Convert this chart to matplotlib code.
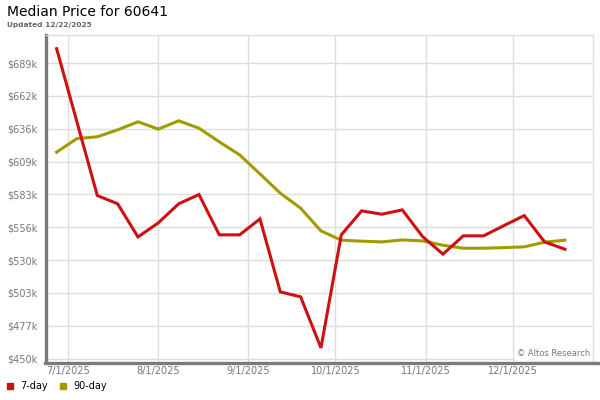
import matplotlib
matplotlib.use("Agg")
import matplotlib.pyplot as plt
import matplotlib.dates as mdates
import pandas as pd

# weekly points (Fridays)
dates = ["2025-06-27", "2025-07-04", "2025-07-11", "2025-07-18", "2025-07-25",
         "2025-08-01", "2025-08-08", "2025-08-15", "2025-08-22", "2025-08-29",
         "2025-09-05", "2025-09-12", "2025-09-19", "2025-09-26", "2025-10-03",
         "2025-10-10", "2025-10-17", "2025-10-24", "2025-10-31", "2025-11-07",
         "2025-11-14", "2025-11-21", "2025-11-28", "2025-12-05", "2025-12-12",
         "2025-12-19"]

# values in $k
price_7day = [700.6, 641.3, 581.9, 575.2, 548.4, 559.8, 575.2, 582.7, 550.1, 550.1,
              563.0, 504.0, 500.0, 458.7, 550.1, 569.5, 566.8, 570.3, 548.7, 534.5,
              549.3, 549.3, 557.6, 565.7, 544.4, 538.5]
price_90day = [617.0, 628.0, 629.4, 635.0, 641.5, 635.6, 642.3, 636.4, 625.3, 614.8,
               599.4, 583.8, 571.7, 553.3, 545.8, 545.0, 544.4, 546.0, 545.2, 541.7,
               539.3, 539.3, 539.8, 540.4, 544.2, 545.8]

ytick_labels = ["$450k", "$477k", "$503k", "$530k", "$556k",
                "$583k", "$609k", "$636k", "$662k", "$689k"]
xtick_dates = ["2025-07-01", "2025-08-01", "2025-09-01",
               "2025-10-01", "2025-11-01", "2025-12-01"]
xtick_labels = ["7/1/2025", "8/1/2025", "9/1/2025", "10/1/2025", "11/1/2025", "12/1/2025"]

red = "#cc1111"
olive = "#a09c00"
grid_c = "#dddddd"
tick_c = "#777777"

x = pd.to_datetime(dates)

fig = plt.figure(figsize=(6, 4), dpi=100)
ax = fig.add_axes([46 / 600, 1 - 362 / 400, (593 - 46) / 600, (362 - 35) / 400])

ax.plot(x, price_7day, color=red, lw=2.2, solid_joinstyle="miter", zorder=3)
ax.plot(x, price_90day, color=olive, lw=2.2, solid_joinstyle="miter", zorder=2)

ax.set_xlim(pd.Timestamp("2025-06-23 08:00"), pd.Timestamp("2025-12-28 16:00"))
ax.set_ylim(447.3, 711.7)

ytick_pos = [450 + i * (689 - 450) / 9 for i in range(10)]
ax.set_yticks(ytick_pos)
ax.set_yticklabels(ytick_labels)
ax.set_xticks(pd.to_datetime(xtick_dates))
ax.set_xticklabels(xtick_labels)
ax.tick_params(length=0, labelsize=7, colors=tick_c, pad=6)
ax.tick_params(axis="x", pad=3)

ax.grid(True, color=grid_c, lw=1)
ax.set_axisbelow(True)

ax.spines["left"].set_color("#7a7a7a")
ax.spines["left"].set_linewidth(2.4)
ax.spines["bottom"].set_visible(False)
for side in ["top", "right"]:
    ax.spines[side].set_color(grid_c)
    ax.spines[side].set_linewidth(1)

# thick bottom rule, running a little past the plot's right edge
fig.add_artist(plt.Line2D([44.5 / 600, 598 / 600], [1 - 362.5 / 400, 1 - 362.5 / 400],
                          transform=fig.transFigure, color="#7a7a7a", lw=2.4))

ax.text(0.995, 0.012, "\u00a9 Altos Research", transform=ax.transAxes,
        ha="right", va="bottom", fontsize=6, color="#777777", zorder=5,
        bbox=dict(facecolor="white", edgecolor="none", pad=1.5))

fig.text(7 / 600, 1 - 12.5 / 400, "Median Price for 60641", fontsize=10,
         color="black", va="center", ha="left")
fig.text(7 / 600, 1 - 25 / 400, "Updated 12/22/2025", fontsize=5.3,
         color="#666666", va="center", ha="left", fontweight="bold")

# legend
fig.patches.append(plt.Rectangle((7 / 600, 1 - 389 / 400), 6 / 600, 6 / 400,
                                 transform=fig.transFigure, color=red))
fig.text(20 / 600, 1 - 386 / 400, "7-day", fontsize=7, va="center", ha="left")
fig.patches.append(plt.Rectangle((60 / 600, 1 - 389 / 400), 6 / 600, 6 / 400,
                                 transform=fig.transFigure, color=olive))
fig.text(73 / 600, 1 - 386 / 400, "90-day", fontsize=7, va="center", ha="left")

fig.savefig("out.png", dpi=100)
